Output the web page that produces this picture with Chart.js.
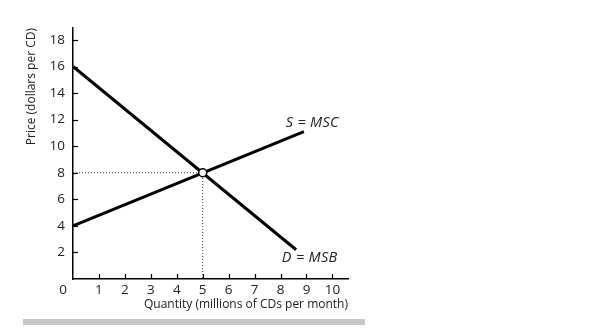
<!DOCTYPE html>
<html><head><meta charset="utf-8">
<script src="https://cdn.jsdelivr.net/npm/chart.js@4"></script>
<style>html,body{margin:0;padding:0;background:#fff;}#wrap{width:615px;height:328px;position:relative;}</style>
</head><body><div id="wrap"><canvas id="c" width="615" height="328"></canvas></div>
<script>
const supplyQ = [0, 8.9];
const supplyP = [4, 11.1];
const demandQ = [0, 8.6];
const demandP = [16, 2.2];
const eqQ = [5];
const eqP = [8];
const xTicks = [1, 2, 3, 4, 5, 6, 7, 8, 9, 10];
const yTicks = [2, 4, 6, 8, 10, 12, 14, 16, 18];
const curveLabels = ['S = MSC', 'D = MSB'];
const labelAnchorQ = [8.2, 8.05];
const labelAnchorP = [11.75, 1.6];

const FONT = "'Open Sans', 'DejaVu Sans', sans-serif";
const toPts = (xs, ys) => xs.map((x, i) => ({x: x, y: ys[i]}));

const extras = {
  id: 'extras',
  afterDraw(chart) {
    const ctx = chart.ctx, xs = chart.scales.x, ys = chart.scales.y;
    const x0 = xs.getPixelForValue(0), y0 = ys.getPixelForValue(0);
    ctx.save();
    ctx.strokeStyle = '#000'; ctx.lineWidth = 1.2;
    yTicks.forEach(v => { const py = Math.round(ys.getPixelForValue(v)) + 0.5; ctx.beginPath(); ctx.moveTo(x0, py); ctx.lineTo(x0 + 5, py); ctx.stroke(); });
    xTicks.forEach(v => { const px = Math.round(xs.getPixelForValue(v)) + 0.5; ctx.beginPath(); ctx.moveTo(px, y0); ctx.lineTo(px, y0 - 5); ctx.stroke(); });
    ctx.fillStyle = '#222';
    ctx.font = "13.5px " + FONT;
    ctx.textAlign = 'center'; ctx.textBaseline = 'middle';
    ctx.fillText('0', x0 - 10, y0 + 11);
    ctx.font = "italic 14.5px " + FONT;
    try { ctx.letterSpacing = '0.3px'; } catch (e) {}
    ctx.textAlign = 'left';
    curveLabels.forEach((t, i) => ctx.fillText(t, xs.getPixelForValue(labelAnchorQ[i]), ys.getPixelForValue(labelAnchorP[i])));
    try { ctx.letterSpacing = '0px'; } catch (e) {}
    ctx.fillStyle = '#c8c8c8';
    ctx.fillRect(23, 319, 342, 6);
    ctx.restore();
  }
};

new Chart(document.getElementById('c'), {
  type: 'scatter',
  data: {
    datasets: [
      {data: toPts([0, eqQ[0], eqQ[0]], [eqP[0], eqP[0], 0]), showLine: true, borderColor: '#333', borderWidth: 1, borderDash: [1, 2], pointRadius: 0, order: 3},
      {data: toPts(demandQ, demandP), showLine: true, borderColor: '#000', borderWidth: 3, pointRadius: 0, order: 2},
      {data: toPts(supplyQ, supplyP), showLine: true, borderColor: '#000', borderWidth: 3, pointRadius: 0, order: 2},
      {data: toPts(eqQ, eqP), showLine: false, pointRadius: 4, pointBackgroundColor: '#fff', pointBorderColor: '#000', pointBorderWidth: 1.5, order: 0}
    ]
  },
  options: {
    responsive: false, animation: false,
    layout: {padding: {top: 28, right: 267, bottom: 0, left: 0}},
    plugins: {legend: {display: false}, tooltip: {enabled: false}},
    scales: {
      x: {
        type: 'linear', min: 0, max: 10.6,
        afterBuildTicks: s => { s.ticks = xTicks.map(v => ({value: v})); },
        afterFit: s => { s.height = 49; },
        grid: {display: false, drawTicks: false},
        border: {display: true, color: '#000', width: 1.5},
        ticks: {color: '#222', font: {family: FONT, size: 13.5}, padding: 3, maxRotation: 0, autoSkip: false},
        title: {display: true, text: 'Quantity (millions of CDs per month)', align: 'end', color: '#222', font: {family: FONT, size: 12}, padding: {top: 0, bottom: 16}}
      },
      y: {
        type: 'linear', min: 0, max: 18.9,
        afterBuildTicks: s => { s.ticks = yTicks.map(v => ({value: v})); },
        afterFit: s => { s.width = 73; },
        grid: {display: false, drawTicks: false},
        border: {display: true, color: '#000', width: 1.5},
        ticks: {color: '#222', font: {family: FONT, size: 13.5}, padding: 8, autoSkip: false},
        title: {display: true, text: 'Price (dollars per CD)', align: 'end', color: '#222', font: {family: FONT, size: 12}, padding: {top: 24, bottom: 0}}
      }
    }
  },
  plugins: [extras]
});
</script></body></html>
